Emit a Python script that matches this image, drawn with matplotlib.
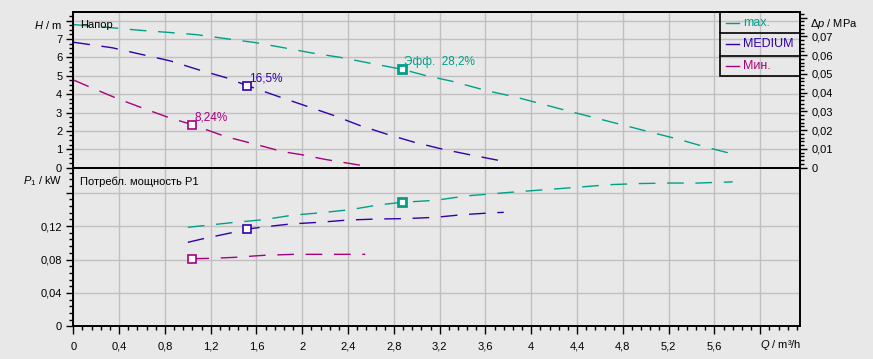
import numpy as np
import matplotlib.pyplot as plt
from matplotlib.ticker import MultipleLocator, FuncFormatter
from matplotlib.patches import Rectangle

# pump curves: Q in m3/h, H in m, P1 in kW
q_max_h = [0, 0.35, 0.58, 0.82, 1.08, 1.34, 1.59, 1.83, 2.08, 2.33, 2.56, 2.87, 3.09, 3.30,
           3.61, 3.87, 4.10, 4.33, 4.57, 4.80, 5.05, 5.29, 5.53, 5.77]
h_max = [7.78, 7.60, 7.47, 7.36, 7.23, 7.01, 6.80, 6.53, 6.24, 6.00, 5.72, 5.35, 4.99, 4.71,
         4.19, 3.83, 3.45, 3.07, 2.69, 2.32, 1.92, 1.54, 1.11, 0.73]
q_med_h = [0, 0.34, 0.58, 0.85, 1.09, 1.33, 1.52, 1.80, 2.04, 2.27, 2.50, 2.74, 2.98, 3.23, 3.45, 3.73]
h_med = [6.82, 6.52, 6.18, 5.80, 5.33, 4.90, 4.46, 3.85, 3.34, 2.85, 2.30, 1.82, 1.38, 1.00, 0.72, 0.38]
q_min_h = [0, 0.15, 0.38, 0.61, 0.85, 1.04, 1.33, 1.58, 1.83, 2.00, 2.20, 2.55]
h_min = [4.77, 4.37, 3.77, 3.23, 2.69, 2.34, 1.69, 1.29, 0.87, 0.70, 0.45, 0.09]

q_max_p = [1.0, 1.41, 1.66, 1.91, 2.16, 2.42, 2.66, 2.87, 3.17, 3.42, 3.68, 3.93, 4.16, 4.44,
           4.69, 4.95, 5.20, 5.45, 5.71, 5.76]
p_max = [0.1186, 0.1245, 0.1277, 0.1330, 0.1360, 0.1397, 0.1453, 0.1485, 0.1510, 0.1560, 0.1590,
         0.1617, 0.1640, 0.1670, 0.1697, 0.1710, 0.1716, 0.1716, 0.1728, 0.1730]
q_med_p = [1.0, 1.15, 1.40, 1.52, 1.64, 1.89, 2.15, 2.40, 2.65, 2.90, 3.16, 3.40, 3.66, 3.76]
p_med = [0.1006, 0.1054, 0.1126, 0.1165, 0.1186, 0.1225, 0.1246, 0.1273, 0.1285, 0.1290, 0.1305,
         0.1337, 0.1360, 0.1365]
q_min_p = [1.04, 1.20, 1.41, 1.66, 1.92, 2.17, 2.55]
p_min = [0.0810, 0.0814, 0.0826, 0.0850, 0.0862, 0.0862, 0.0862]

# best efficiency points
bep_q = [2.87, 1.52, 1.04]
bep_h = [5.35, 4.46, 2.34]
bep_p = [0.1485, 0.1165, 0.0810]
bep_txt = ['Эфф.  28,2%', '16,5%', '8,24%']

names = ['max.', 'MEDIUM', 'Мин.']
colors = ['#00a088', '#3300aa', '#a8007e']

BG = '#e8e8e8'
GRID = '#c0c0c0'
H_TOP = 8.48
MPA_PER_M = 0.00981

plt.rcParams['font.family'] = ['Liberation Sans', 'DejaVu Sans']
plt.rcParams['mathtext.fontset'] = 'custom'
plt.rcParams['mathtext.rm'] = 'Liberation Sans'
plt.rcParams['mathtext.it'] = 'Liberation Sans:italic'
plt.rcParams['lines.scale_dashes'] = False
plt.rcParams['font.size'] = 8


def comma(v, pos, hide_above=None):
    if hide_above is not None and v > hide_above:
        return ''
    s = f'{v:.3f}'.rstrip('0').rstrip('.')
    return s.replace('.', ',')


fig = plt.figure(figsize=(8.73, 3.59), dpi=100, facecolor=BG)
ax1 = fig.add_axes([0.084, 0.5329, 0.8327, 0.4345], facecolor=BG)
ax2 = fig.add_axes([0.084, 0.0911, 0.8327, 0.4418], facecolor=BG)
ax1r = ax1.twinx()

for ax in (ax1, ax2):
    ax.set_xlim(0, 6.35)
    ax.xaxis.set_major_locator(MultipleLocator(0.4))
    ax.grid(True, color=GRID, lw=1)
    ax.set_axisbelow(True)
    for s in ax.spines.values():
        s.set_linewidth(1.4)
    ax.tick_params(axis='y', which='major', length=5, width=1, pad=3)
    ax.tick_params(axis='y', which='minor', length=3, width=1)
for s in ax1r.spines.values():
    s.set_linewidth(1.4)

# top panel: head
ax1.set_ylim(0, H_TOP)
ax1.yaxis.set_major_locator(MultipleLocator(1))
ax1.yaxis.set_minor_locator(MultipleLocator(0.25))
ax1.yaxis.set_major_formatter(FuncFormatter(lambda v, p: comma(v, p, 7.5)))
ax1.tick_params(axis='x', bottom=False, labelbottom=False)

ax1r.set_ylim(0, H_TOP * MPA_PER_M)
ax1r.yaxis.set_major_locator(MultipleLocator(0.01))
ax1r.yaxis.set_minor_locator(MultipleLocator(0.002))
ax1r.yaxis.set_major_formatter(FuncFormatter(lambda v, p: comma(v, p, 0.075)))
ax1r.tick_params(axis='y', which='major', length=5, width=1, pad=3)
ax1r.tick_params(axis='y', which='minor', length=3, width=1)

for q, h, c in zip([q_max_h, q_med_h, q_min_h], [h_max, h_med, h_min], colors):
    ax1.plot(q, h, color=c, lw=1.0, dashes=(12, 8.4), zorder=3)

# bottom panel: power
ax2.set_ylim(0, 0.19)
ax2.yaxis.set_major_locator(MultipleLocator(0.04))
ax2.yaxis.set_minor_locator(MultipleLocator(0.008))
ax2.yaxis.set_major_formatter(FuncFormatter(lambda v, p: comma(v, p, 0.14)))
ax2.xaxis.set_minor_locator(MultipleLocator(0.08))
ax2.xaxis.set_major_formatter(FuncFormatter(lambda v, p: comma(v, p, 5.8)))
ax2.tick_params(axis='x', which='major', length=6, width=1, pad=5)
ax2.tick_params(axis='x', which='minor', length=3, width=1)

for q, p, c in zip([q_max_p, q_med_p, q_min_p], [p_max, p_med, p_min], colors):
    ax2.plot(q, p, color=c, lw=1.0, dashes=(12, 8.4), zorder=3)

# BEP markers and labels
for i in range(3):
    mew = 2.0 if i == 0 else 1.2
    ax1.plot(bep_q[i], bep_h[i], marker='s', ms=6, mfc='white', mec=colors[i], mew=mew, ls='none', zorder=5)
    ax2.plot(bep_q[i], bep_p[i], marker='s', ms=6, mfc='white', mec=colors[i], mew=mew, ls='none', zorder=5)
    ax1.annotate(bep_txt[i], xy=(bep_q[i], bep_h[i]), xytext=(1.5, 5), textcoords='offset points',
                 color=colors[i], fontsize=8.5, va='center', ha='left', zorder=6)

# axis captions
ax1.annotate('$H$ / m', xy=(0, 7.76), xycoords='data', xytext=(-8, 0), textcoords='offset points',
             ha='right', va='center', annotation_clip=False)
ax1r.annotate(r'$\mathit{\Delta p}$ / MPa', xy=(1, 7.80 * MPA_PER_M), xycoords=('axes fraction', 'data'),
              xytext=(7, 0), textcoords='offset points', ha='left', va='center',
              annotation_clip=False)
ax2.annotate(r'$P_\mathrm{1}$ / kW', xy=(0, 0.174), xycoords='data', xytext=(-8, 0),
             textcoords='offset points', ha='right', va='center', annotation_clip=False)
ax2.annotate('$Q$ / m³/h', xy=(6.0, 0), xycoords=('data', 'axes fraction'), xytext=(0, -13.7),
             textcoords='offset points', ha='left', va='center', annotation_clip=False)
ax1.annotate('Напор', xy=(0, 1), xycoords='axes fraction', xytext=(5, -9.6), textcoords='offset points',
             ha='left', va='center')
ax2.annotate('Потребл. мощность P1', xy=(0, 1), xycoords='axes fraction', xytext=(5, -10),
             textcoords='offset points', ha='left', va='center')

# legend box with separated rows
lx0, ly0 = 0.8895, 0.588
rows = [1.0, 0.8615, 0.718, 0.588]
ax1.add_patch(Rectangle((lx0, ly0), 1 - lx0, 1 - ly0, transform=ax1.transAxes, fill=False,
                        ec='black', lw=1.2, zorder=7, clip_on=False))
for y in rows[1:3]:
    ax1.plot([lx0, 1], [y, y], color='black', lw=1.2, transform=ax1.transAxes, zorder=7, clip_on=False)
for i in range(3):
    yc = (rows[i] + rows[i + 1]) / 2
    ax1.plot([0.898, 0.9157], [yc, yc], color=colors[i], lw=1.0, transform=ax1.transAxes, zorder=7)
    ax1.text(0.921, yc, names[i], color=colors[i], fontsize=9, transform=ax1.transAxes,
             ha='left', va='center', zorder=7)

fig.savefig('out.png', dpi=100, facecolor=BG)
